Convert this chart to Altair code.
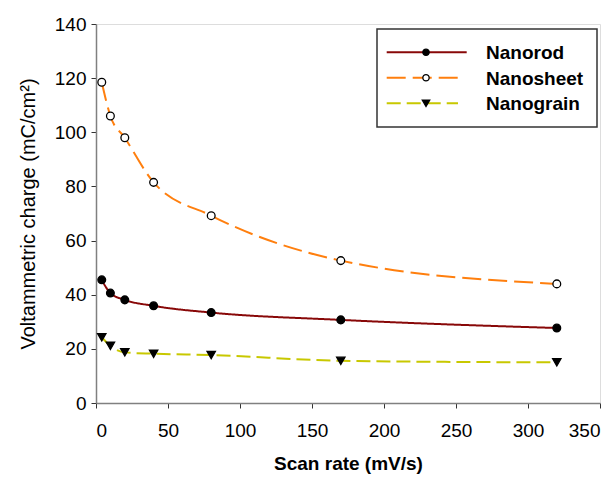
import altair as alt
import pandas as pd

scan_rate = [4, 10, 20, 40, 80, 170, 320]
nanorod = [45.5, 40.6, 38.1, 35.9, 33.4, 30.7, 27.7]
nanosheet = [118.5, 106.0, 98.0, 81.5, 69.2, 52.6, 44.0]
nanograin = [24.3, 21.1, 18.7, 18.2, 17.7, 15.6, 15.0]

series_names = ["Nanorod", "Nanosheet", "Nanograin"]
line_colors = ["#880808", "#FF7F0E", "#C8C800"]
dashes = [[1, 0], [19, 7], [14, 6]]
shapes = ["circle", "circle", "triangle-down"]
fills = ["black", "white", "black"]

FONT = "Liberation Sans"

frames = []
for name, vals in zip(series_names, [nanorod, nanosheet, nanograin]):
    frames.append(pd.DataFrame({"rate": scan_rate, "charge": vals, "series": name}))
df = pd.concat(frames, ignore_index=True)

xscale = alt.Scale(domain=[0, 350], nice=False, zero=False)
yscale = alt.Scale(domain=[0, 140], nice=False)

xaxis = alt.Axis(values=list(range(0, 351, 50)), title="Scan rate (mV/s)",
                 grid=False, tickSize=5, labelFontSize=19, titleFontSize=19,
                 titleFontWeight="bold", labelFont=FONT, titleFont=FONT,
                 domainColor="#808080", tickColor="#333333", labelColor="black",
                 titleColor="black", labelPadding=13, titlePadding=14, domainWidth=1.5)
yaxis = alt.Axis(values=list(range(0, 141, 20)), title="Voltammetric charge (mC/cm²)",
                 grid=False, tickSize=5, labelFontSize=19, titleFontSize=20,
                 titleFontWeight="normal", labelFont=FONT, titleFont=FONT,
                 domainColor="#808080", tickColor="#333333", labelColor="black",
                 titleColor="black", labelPadding=5, titlePadding=16, domainWidth=1.5)

layers = []
for i, name in enumerate(series_names):
    sub = df[df.series == name]
    base = alt.Chart(sub)
    line = base.mark_line(interpolate="monotone", color=line_colors[i], strokeWidth=2,
                          strokeDash=dashes[i]).encode(
        x=alt.X("rate:Q", scale=xscale, axis=xaxis),
        y=alt.Y("charge:Q", scale=yscale, axis=yaxis))
    pts = base.mark_point(shape=shapes[i], filled=True, fill=fills[i], stroke="black",
                          strokeWidth=1.3, size=60 if i < 2 else 70, opacity=1).encode(
        x=alt.X("rate:Q", scale=xscale),
        y=alt.Y("charge:Q", scale=yscale))
    layers += [line, pts]

# legend (drawn manually, in plot pixel space)
box = alt.Chart(pd.DataFrame({"a": [0]})).mark_rect(
    fill="white", stroke="#333333", strokeWidth=1.5).encode(
    x=alt.value(281), x2=alt.value(501), y=alt.value(5), y2=alt.value(103))
layers.append(box)
row_y = [28.3, 53.7, 79.3]
line_end = [370.7, 362, 362]
for i, name in enumerate(series_names):
    d = pd.DataFrame({"series": [name]})
    layers.append(alt.Chart(d).mark_rule(color=line_colors[i], strokeWidth=2,
                                         strokeDash=dashes[i]).encode(
        x=alt.value(290.7), x2=alt.value(line_end[i]), y=alt.value(row_y[i])))
    layers.append(alt.Chart(d).mark_point(shape=shapes[i], filled=True, fill=fills[i],
                                          stroke="black", strokeWidth=1.3,
                                          size=40 if i < 2 else 55, opacity=1).encode(
        x=alt.value(330), y=alt.value(row_y[i])))
    layers.append(alt.Chart(d).mark_text(align="left", baseline="middle", font=FONT,
                                         fontSize=19, fontWeight="bold", color="black").encode(
        x=alt.value(390), y=alt.value(row_y[i] + 1), text="series:N"))

chart = alt.layer(*layers).properties(
    width=504, height=379,
    autosize=alt.AutoSizeParams(type="none"),
    padding={"left": 88, "top": 16, "right": 8, "bottom": 74},
).configure_view(stroke="#808080", strokeWidth=1.5).configure(background="white")

chart.save("out.html", embed_options={"renderer": "svg", "actions": False})
